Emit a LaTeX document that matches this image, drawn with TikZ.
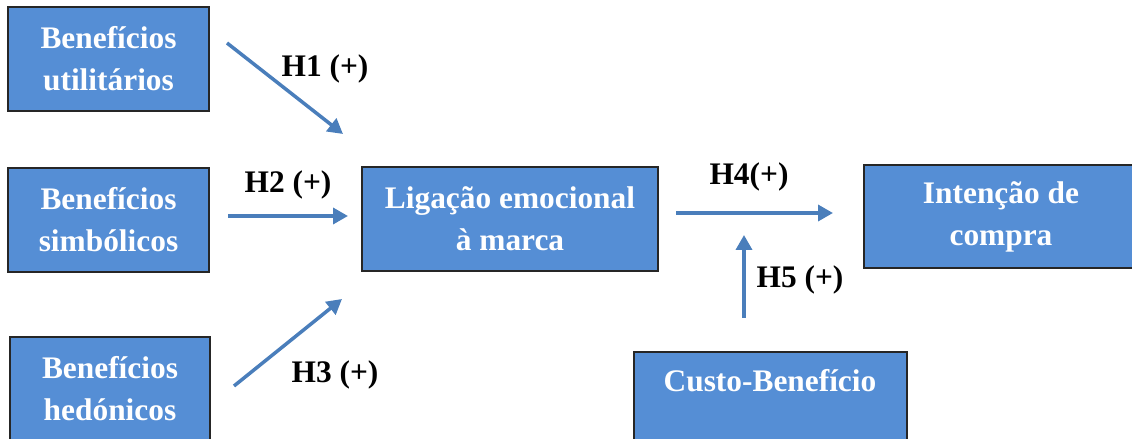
\documentclass[tikz,border=0pt]{standalone}
\usepackage{fontspec}
\setmainfont{Liberation Serif}
\usetikzlibrary{arrows.meta}
\definecolor{boxblue}{RGB}{85,142,213}
\definecolor{arrblue}{RGB}{74,126,187}
\begin{document}
\begin{tikzpicture}[x=1bp,y=-1bp,
  box/.style={draw=black!85,line width=1.3bp,fill=boxblue,inner sep=0pt,
    minimum width=#1},
  txt/.style={text=white,font=\fontsize{31.5}{42}\selectfont\bfseries,align=center,inner sep=0pt},
  hyp/.style={font=\fontsize{31.5}{36}\selectfont\bfseries,inner sep=0pt},
  arr/.style={draw=arrblue,line width=3.5bp,-{Triangle[length=15bp,width=16bp]}}]
\useasboundingbox (0,0) rectangle (1132,439);
% boxes
\node[box=201bp,minimum height=104bp] (util) at (108.5,59) {};
\node[txt] (utilT) at (util.center) {Benefícios\\utilitários};
\node[box=201bp,minimum height=104bp] (simb) at (108.5,220) {};
\node[txt] (simbT) at (simb.center) {Benefícios\\simbólicos};
\node[box=200bp,minimum height=130bp] (hed) at (110,402) {};
\node[txt] (hedT) at (110,389) {Benefícios\\hedónicos};
\node[box=296bp,minimum height=104bp] (lig) at (510,219) {};
\node[txt] (ligT) at (lig.center) {Ligação emocional\\à marca};
\node[box=274bp,minimum height=103bp] (int) at (1001,216.5) {};
\node[txt] (intT) at (int.center) {Intenção de\\compra};
\node[box=273bp,minimum height=130bp] (custo) at (770.5,417) {};
\node[txt] (custoT) at (770,381) {Custo-Benefício};
% arrow end points
\coordinate (a1s) at (227,43);
\coordinate (a1e) at (343,134);
\coordinate (a2s) at (228,216);
\coordinate (a2e) at (348,216);
\coordinate (a3s) at (234,386);
\coordinate (a3e) at (342,299);
\coordinate (a4s) at (676,213);
\coordinate (a4e) at (833,213);
\coordinate (a5s) at (744,318);
\coordinate (a5e) at (744,235);
\draw[arr] (a1s) -- (a1e);
\draw[arr] (a2s) -- (a2e);
\draw[arr] (a3s) -- (a3e);
\draw[arr] (a4s) -- (a4e);
\draw[arr] (a5s) -- (a5e);
% labels
\node[hyp] (h1) at (325,69) {H1 (+)};
\node[hyp] (h2) at (288,185) {H2 (+)};
\node[hyp] (h3) at (335,375) {H3 (+)};
\node[hyp] (h4) at (749,177) {H4(+)};
\node[hyp] (h5) at (800,280) {H5 (+)};
\end{tikzpicture}
\end{document}
